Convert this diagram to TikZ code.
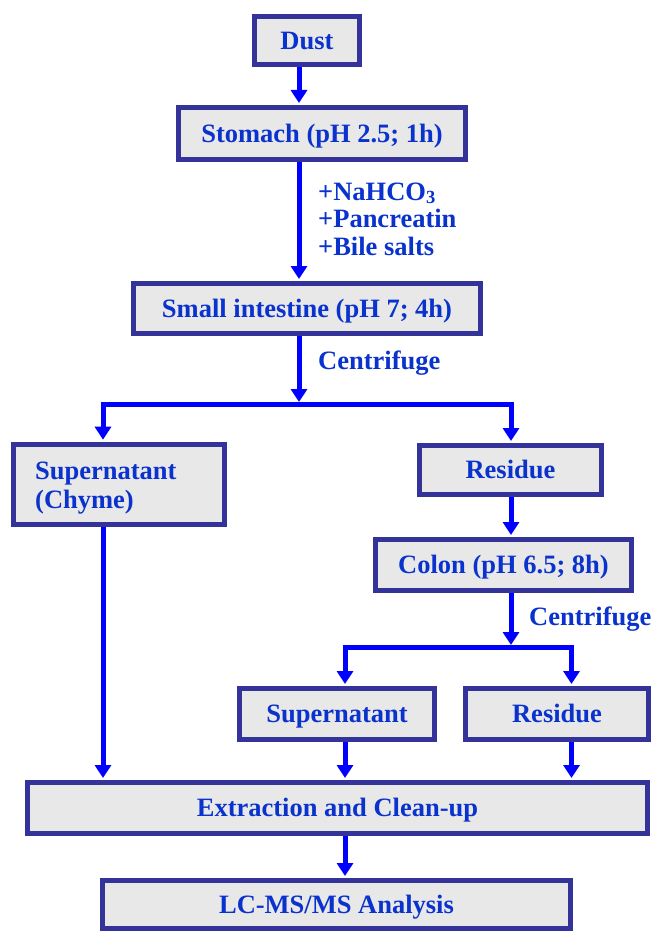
\documentclass[tikz,border=0pt]{standalone}
\usepackage{fontspec}
\setmainfont{Liberation Serif}
\usepackage{xcolor}
\usepackage{tikz}
\usetikzlibrary{arrows.meta,calc}
\definecolor{frame}{HTML}{333399}
\definecolor{boxfill}{HTML}{E8E8E8}
\definecolor{flowblue}{HTML}{0000FF}
\definecolor{labelblue}{HTML}{0A32CC}

\begin{document}
\begin{tikzpicture}[x=1pt,y=-1pt,
  stage/.style={draw=frame,line width=5pt,fill=boxfill,inner sep=0pt,text=labelblue,
    text height=19pt,text depth=1.6pt,font=\bfseries\fontsize{26.5}{29}\selectfont},
  flow/.style={flowblue,line width=5pt,-{Triangle[width=16pt,length=13pt]},shorten >=2pt},
  note/.style={inner sep=0pt,text=labelblue,font=\bfseries\fontsize{26.5}{27.5}\selectfont}]
  \useasboundingbox (0,0) rectangle (652,931);
  % boxes
  \node[stage,minimum width=105,minimum height=48] (dust) at (307,40.5) {Dust};
  \node[stage,minimum width=287,minimum height=52] (stomach) at (322,133.5) {Stomach (pH 2.5; 1h)};
  \node[stage,minimum width=347,minimum height=50] (small) at (307,308.5) {Small intestine (pH 7; 4h)};
  \node[stage,text height=,text depth=,minimum height=80,text width=167,inner xsep=22,align=left]
    (chyme) at (118.7,484.2) {\rule{0pt}{26pt}Supernatant\\(Chyme)};
  \node[stage,minimum width=182,minimum height=49] (res1) at (510.5,470) {Residue};
  \node[stage,minimum width=256,minimum height=51] (colon) at (503.5,565) {Colon (pH 6.5; 8h)};
  \node[stage,minimum width=195,minimum height=51] (sup2) at (337,714) {Supernatant};
  \node[stage,minimum width=183,minimum height=51] (res2) at (557,714) {Residue};
  \node[stage,minimum width=620,minimum height=51] (extr) at (337.5,808) {Extraction and Clean-up};
  \node[stage,minimum width=468,minimum height=48] (lc) at (336.5,904.5) {LC-MS/MS Analysis};
  % rails
  \coordinate (spine) at (299,0);
  \coordinate (split1) at (299,404);
  \coordinate (split2) at (511,647);
  \coordinate (leftrail) at (103,0);
  \coordinate (midrail) at (345,0);
  \coordinate (rightrail) at (571.5,0);
  % connectors
  \draw[flow] (dust.south -| spine) -- (stomach.north -| spine);
  \draw[flow] (stomach.south -| spine) -- (small.north -| spine);
  \draw[flow] (small.south -| spine) -- (split1);
  \draw[flow] (split1) -| (chyme.north -| leftrail);
  \draw[flow] (split1) -| (res1.north -| split2);
  \draw[flow] (res1.south -| split2) -- (colon.north -| split2);
  \draw[flow] (colon.south -| split2) -- (split2);
  \draw[flow] (split2) -| (sup2.north -| midrail);
  \draw[flow] (split2) -| (res2.north -| rightrail);
  \draw[flow] (chyme.south -| leftrail) -- (extr.north -| leftrail);
  \draw[flow] (sup2.south -| midrail) -- (extr.north -| midrail);
  \draw[flow] (res2.south -| rightrail) -- (extr.north -| rightrail);
  \draw[flow] (extr.south -| midrail) -- (lc.north -| midrail);
  % labels
  \node[note,anchor=west,align=left] (additives) at (318,219) {+NaHCO\textsubscript{3}\\+Pancreatin\\+Bile salts};
  \node[note,anchor=base west] (spin1) at (318,369) {Centrifuge};
  \node[note,anchor=base west] (spin2) at (529,625) {Centrifuge};
\end{tikzpicture}
\end{document}
